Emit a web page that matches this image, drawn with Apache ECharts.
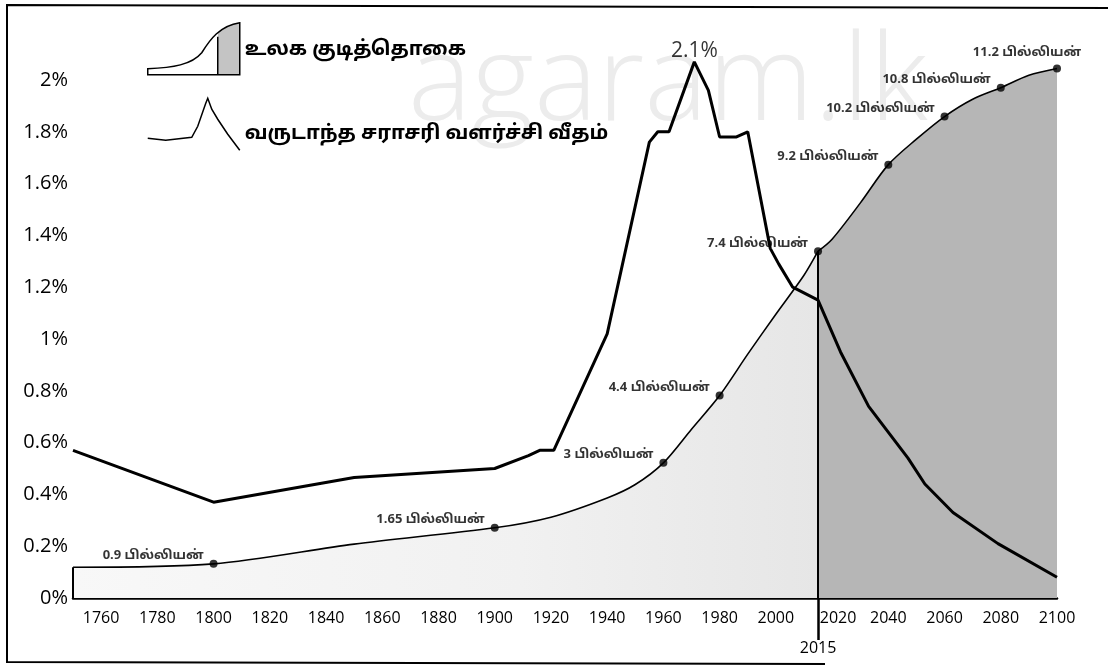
<!DOCTYPE html>
<html>
<head>
<meta charset="utf-8">
<title>உலக குடித்தொகை</title>
<script src="https://cdn.jsdelivr.net/npm/echarts@6/dist/echarts.min.js"></script>
<style>
  html, body { margin: 0; padding: 0; background: #fff; }
  #chart { width: 1108px; height: 667px; }
</style>
</head>
<body>
<div id="chart"></div>
<script>
// வருடாந்த சராசரி வளர்ச்சி வீதம் (%)
var rateYears  = [1750, 1800, 1850, 1900, 1912, 1916, 1921, 1940, 1955, 1958, 1962, 1971, 1976, 1980, 1986, 1990, 1998, 2001, 2006, 2015, 2023, 2033, 2047, 2053, 2063, 2079, 2100];
var rateValues = [0.57, 0.37, 0.465, 0.50, 0.55, 0.57, 0.57, 1.02, 1.76, 1.8, 1.8, 2.07, 1.96, 1.78, 1.78, 1.8, 1.35, 1.29, 1.2, 1.15, 0.95, 0.74, 0.54, 0.44, 0.33, 0.21, 0.08];
var peakText = '2.1%';

// உலக குடித்தொகை (billions) - curve
var popYears  = [1750, 1800, 1850, 1900, 1920, 1940, 1950, 1960, 1970, 1980, 1990, 2000, 2010, 2015, 2020, 2030, 2040, 2050, 2060, 2070, 2080, 2090, 2100];
var popValues = [0.83, 0.9, 1.31, 1.65, 1.87, 2.27, 2.55, 3, 3.7, 4.4, 5.26, 6.09, 6.9, 7.4, 7.65, 8.4, 9.2, 9.73, 10.2, 10.56, 10.8, 11.06, 11.2];

// labelled points
var markYears  = [1800, 1900, 1960, 1980, 2015, 2040, 2060, 2080, 2100];
var markValues = [0.9, 1.65, 3, 4.4, 7.4, 9.2, 10.2, 10.8, 11.2];

var xTicks = [1760, 1780, 1800, 1820, 1840, 1860, 1880, 1900, 1920, 1940, 1960, 1980, 2000, 2020, 2040, 2060, 2080, 2100];
var splitYear = 2015;

var popName = 'உலக குடித்தொகை';
var rateName = 'வருடாந்த சராசரி வளர்ச்சி வீதம்';
var tamilFont = '"Noto Sans Tamil", "Lohit Tamil", "Noto Sans", sans-serif';
var numFont = '"Open Sans", "Noto Sans", sans-serif';

// hidden population axis range (schematic scale of the original)
var popMin = 0.19, popMax = 10.96;

var lightPop = [], darkPop = [];
popYears.forEach(function (y, i) {
	if (y <= splitYear) lightPop.push([y, popValues[i]]);
	if (y >= splitYear) darkPop.push([y, popValues[i]]);
});
function popAt(year) { return popValues[popYears.indexOf(year)]; }
function edge(year) { return [{coord: [year, popAt(year)]}, {coord: [year, popMin]}]; }

var rateData = rateYears.map(function (y, i) { return [y, rateValues[i]]; });
var peakIdx = rateValues.indexOf(Math.max.apply(null, rateValues));

var markData = markYears.map(function (y, i) {
	var d = {value: [y, markValues[i]]};
	if (i === markYears.length - 1) {
		d.label = {position: 'top', offset: [-30, 0], distance: 5};
	}
	return d;
});

var chart = echarts.init(document.getElementById('chart'));
chart.setOption({
	animation: false,
	backgroundColor: '#fff',
	grid: {left: 73, right: 51, top: 80, bottom: 69},
	legend: {
		orient: 'vertical',
		left: 142,
		top: 17,
		itemWidth: 92,
		itemHeight: 52,
		itemGap: 22,
		selectedMode: false,
		formatter: function (name) {
			return name === rateName ? '{low|' + name + '}' : '{up|' + name + '}';
		},
		textStyle: {
			fontFamily: tamilFont, fontSize: 20, fontWeight: 'bold', color: '#000',
			rich: {
				up: {fontFamily: tamilFont, fontSize: 20, fontWeight: 'bold', color: '#000', padding: [5, 0, 0, 0]},
				low: {fontFamily: tamilFont, fontSize: 20, fontWeight: 'bold', color: '#000', padding: [22, 0, 0, 0]}
			}
		},
		data: [
			{
				name: popName,
				icon: 'path://M0,52 L0,46 C25,45 44,42 54,30 C62,17 72,3 92,0 L92,52 Z M70,14 L70,52',
				itemStyle: {
					color: new echarts.graphic.LinearGradient(0, 0, 1, 0, [
						{offset: 0, color: '#fff'}, {offset: 0.76, color: '#fff'},
						{offset: 0.76, color: '#c4c4c4'}, {offset: 1, color: '#c4c4c4'}
					]),
					borderColor: '#000',
					borderWidth: 1.5
				}
			},
			{
				name: rateName,
				icon: 'path://M0,40 L18,42 L44,39 L50,28 L58,5 L60,0 L64,11 L70,21 L80,36 L92,52',
				itemStyle: {color: 'rgba(0,0,0,0)', borderColor: '#000', borderWidth: 1.5}
			}
		]
	},
	graphic: [
		{
			type: 'text', left: 408, top: 26, z: 0, silent: true,
			style: {text: 'agaram.lk', fontSize: 120, fontFamily: numFont, fontWeight: 300, fill: '#ececec'}
		},
		{
			type: 'polyline', z: 10, silent: true,
			shape: {points: [[825, 664], [7, 662], [7, 5], [1108, 8]]},
			style: {stroke: '#000', lineWidth: 2, fill: null}
		}
	],
	xAxis: {
		type: 'value',
		min: 1750,
		max: 2100,
		splitLine: {show: false},
		axisLine: {lineStyle: {color: '#000', width: 2.5}},
		axisTick: {show: true, customValues: [splitYear], length: 42, lineStyle: {color: '#000', width: 2.5}},
		axisLabel: {
			customValues: xTicks.concat([splitYear]),
			color: '#000',
			fontSize: 16,
			fontFamily: numFont,
			margin: 12,
			formatter: function (v) {
				if (v === splitYear) return '{low|' + v + '}';
				if (v === 2020) return '{shift|' + v + '}';
				return String(v);
			},
			rich: {
				low: {fontSize: 16, fontFamily: numFont, color: '#000', padding: [30, 0, 0, 0]},
				shift: {fontSize: 16, fontFamily: numFont, color: '#000', padding: [0, 0, 0, 12]}
			}
		}
	},
	yAxis: [
		{
			type: 'value',
			min: 0,
			max: 2,
			interval: 0.2,
			splitLine: {show: false},
			axisLine: {show: false},
			axisTick: {show: false},
			axisLabel: {formatter: '{value}%', color: '#000', fontSize: 20, fontFamily: numFont, margin: 5}
		},
		{type: 'value', min: popMin, max: popMax, show: false, splitLine: {show: false}}
	],
	series: [
		{
			name: popName,
			type: 'line',
			yAxisIndex: 1,
			data: lightPop,
			smooth: 0.3,
			showSymbol: false,
			clip: false,
			z: 1,
			lineStyle: {color: '#000', width: 1.6},
			itemStyle: {color: '#000'},
			areaStyle: {
				origin: 'start',
				opacity: 1,
				color: new echarts.graphic.LinearGradient(0, 0, 1, 0, [
					{offset: 0, color: '#f8f8f8'}, {offset: 0.6, color: '#f1f1f1'}, {offset: 1, color: '#e6e6e6'}
				])
			},
			markLine: {
				silent: true, symbol: ['none', 'none'], label: {show: false},
				lineStyle: {color: '#000', width: 2, type: 'solid'},
				data: [edge(1750)]
			}
		},
		{
			name: popName,
			type: 'line',
			yAxisIndex: 1,
			data: darkPop,
			smooth: 0.3,
			showSymbol: false,
			clip: false,
			z: 1,
			lineStyle: {color: '#000', width: 1.6},
			itemStyle: {color: '#000'},
			areaStyle: {origin: 'start', color: '#b6b6b6', opacity: 1},
			markLine: {
				silent: true, symbol: ['none', 'none'], label: {show: false},
				lineStyle: {color: '#000', width: 2, type: 'solid'},
				data: [edge(splitYear), edge(2100)]
			}
		},
		{
			name: rateName,
			type: 'line',
			yAxisIndex: 0,
			data: rateData,
			showSymbol: false,
			clip: false,
			z: 4,
			lineStyle: {color: '#000', width: 3},
			itemStyle: {color: '#000'}
		},
		{
			name: 'peak',
			type: 'scatter',
			yAxisIndex: 0,
			data: [rateData[peakIdx]],
			symbolSize: 0,
			clip: false,
			z: 5,
			label: {show: true, position: 'top', distance: 0, formatter: peakText, color: '#000', fontSize: 21, fontFamily: numFont}
		},
		{
			name: 'milestones',
			type: 'scatter',
			yAxisIndex: 1,
			data: markData,
			symbolSize: 8,
			clip: false,
			z: 5,
			itemStyle: {color: '#000'},
			label: {
				show: true,
				position: 'left',
				distance: 6,
				offset: [0, -7],
				color: '#000',
				fontSize: 13,
				fontWeight: 'bold',
				fontFamily: tamilFont,
				formatter: function (p) { return p.value[1] + ' பில்லியன்'; }
			}
		}
	]
});
</script>
</body>
</html>
